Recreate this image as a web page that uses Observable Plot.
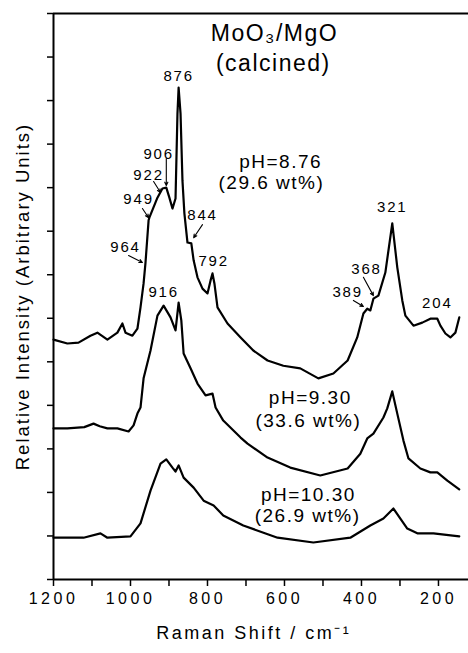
<!DOCTYPE html>
<html><head><meta charset="utf-8">
<script src="https://cdn.jsdelivr.net/npm/d3@7"></script>
<script src="https://cdn.jsdelivr.net/npm/@observablehq/plot@0.6"></script>
<style>
body{margin:0;background:#fff;}
</style></head><body><div id="chart"></div>
<script>
// Raman shift (cm-1), relative intensity (arbitrary units)
const specPH876 = [[1200,5.51],[1164,5.42],[1135,5.44],[1104,5.60],[1086,5.67],[1060,5.51],[1034,5.67],[1021,5.88],[1013,5.67],[995,5.60],[982,5.76],[974,6.25],[966,6.80],[961,7.28],[953,8.25],[951,8.31],[930,8.77],[917,8.98],[907,9.00],[899,8.77],[891,8.52],[883,8.75],[878,10.70],[875,11.30],[870,10.70],[865,9.16],[860,8.41],[852,7.74],[842,7.72],[836,7.33],[826,6.94],[813,6.68],[800,6.57],[792,6.87],[787,7.03],[782,6.80],[774,6.25],[748,5.88],[714,5.56],[681,5.26],[644,5.03],[603,4.91],[559,4.85],[512,4.62],[473,4.73],[436,5.03],[411,5.56],[395,6.11],[385,6.22],[377,6.18],[369,6.45],[356,6.52],[338,7.05],[320,8.18],[307,7.17],[294,6.41],[286,6.06],[265,5.83],[242,5.90],[221,5.99],[203,5.99],[195,5.83],[182,5.65],[169,5.56],[156,5.67],[146,6.02]];
const specPH930 = [[1200,3.47],[1164,3.47],[1120,3.50],[1096,3.58],[1080,3.52],[1060,3.47],[1034,3.47],[1005,3.40],[992,3.54],[982,3.81],[974,3.95],[966,4.62],[948,5.26],[930,6.06],[914,6.29],[896,6.02],[883,5.72],[875,6.36],[868,5.95],[862,5.19],[844,4.85],[826,4.50],[805,4.23],[787,4.27],[779,3.95],[759,3.65],[714,3.26],[696,3.12],[644,2.80],[585,2.57],[507,2.39],[436,2.55],[403,2.89],[385,3.24],[369,3.35],[343,3.72],[333,3.93],[320,4.32],[307,3.81],[291,3.19],[278,2.78],[247,2.55],[221,2.46],[203,2.46],[177,2.27],[146,2.07]];
const specPH1030 = [[1200,0.96],[1122,0.96],[1078,1.06],[1060,0.96],[1000,0.99],[974,1.29],[948,2.04],[922,2.66],[907,2.76],[891,2.57],[883,2.48],[875,2.62],[862,2.34],[836,2.11],[810,1.81],[784,1.70],[759,1.47],[707,1.24],[618,0.96],[525,0.85],[429,0.96],[377,1.24],[343,1.40],[317,1.63],[299,1.40],[281,1.17],[255,1.06],[213,1.06],[146,0.99]];

const seriesNames = ["pH=8.76","pH=9.30","pH=10.30"];
const xTicks = [1200,1100,1000,900,800,700,600,500,400,300,200];
const yTicks = [0,1,2,3,4,5,6,7,8,9,10,11,12,13];

const peakLabels = [
  {t:"876",x:875,y:11.55},{t:"906",x:927,y:9.78},{t:"922",x:953,y:9.28},{t:"949",x:979,y:8.73},
  {t:"964",x:1013,y:7.63},{t:"844",x:813,y:8.36},{t:"792",x:784,y:7.30},{t:"916",x:914,y:6.59},
  {t:"321",x:320,y:8.54},{t:"368",x:387,y:7.12},{t:"389",x:436,y:6.59},{t:"204",x:203,y:6.34}
];
const leaders = [
  {x1:907,y1:9.67,x2:907,y2:9.05},{x1:940,y1:9.14,x2:922,y2:8.89},{x1:969,y1:8.52,x2:953,y2:8.31},
  {x1:1005,y1:7.44,x2:969,y2:7.28},{x1:813,y1:8.15,x2:836,y2:7.85},{x1:395,y1:6.94,x2:369,y2:6.52},
  {x1:421,y1:6.41,x2:395,y2:6.27}
];
const sampleLabels = [
  {t:"pH=8.76",x:610,y:9.58},{t:"(29.6 wt%)",x:634,y:9.10},
  {t:"pH=9.30",x:533,y:4.16},{t:"(33.6 wt%)",x:538,y:3.65},
  {t:"pH=10.30",x:538,y:1.95},{t:"(26.9 wt%)",x:540,y:1.47}
];
const titleLines = [{t:"MoO₃/MgO",x:626,y:12.54},{t:"(calcined)",x:629,y:11.85}];
const xTitle = "Raman Shift / cm⁻¹";
const yTitle = "Relative Intensity (Arbitrary Units)";

const rows = [];
[specPH876, specPH930, specPH1030].forEach((s,i) => s.forEach(([x,y]) => rows.push({series:seriesNames[i], x, y})));

const chart = Plot.plot({
  width: 468, height: 653,
  marginLeft: 53, marginRight: 0, marginTop: 13, marginBottom: 74,
  style: {fontFamily: "'Liberation Sans', Arial, sans-serif", fontSize: "15px", background: "#fff", color: "#000"},
  x: {domain: [1200, 122]},
  y: {domain: [0, 13]},
  marks: [
    Plot.axisX({ticks: xTicks, tickFormat: d => d % 200 === 0 ? String(d) : "", tickSize: 7, tickPadding: 6, fontSize: 16, label: null, strokeWidth: 1.5}),
    Plot.axisY({ticks: yTicks, tickFormat: () => "", tickSize: 6, label: null, strokeWidth: 1.5}),
    Plot.ruleX([1200], {strokeWidth: 2}),
    Plot.ruleY([0], {strokeWidth: 2}),
    Plot.ruleY([13], {strokeWidth: 2}),
    Plot.line(rows, {x: "x", y: "y", z: "series", stroke: "#000", strokeWidth: 2.2, strokeLinejoin: "round"}),
    Plot.arrow(leaders, {x1: "x1", y1: "y1", x2: "x2", y2: "y2", stroke: "#000", strokeWidth: 1.1, headLength: 5, headAngle: 50}),
    Plot.text(peakLabels, {x: "x", y: "y", text: "t", fontSize: 15, fill: "#000"}),
    Plot.text(sampleLabels, {x: "x", y: "y", text: "t", fontSize: 19, fill: "#000"}),
    Plot.text(titleLines, {x: "x", y: "y", text: "t", fontSize: 23, fill: "#000"}),
    Plot.text([xTitle], {x: () => 680, frameAnchor: "bottom", dy: 59, text: d => d, fontSize: 18, fill: "#000"}),
    Plot.text([yTitle], {frameAnchor: "left", textAnchor: "middle", lineAnchor: "middle", dx: -30, rotate: -90, text: d => d, fontSize: 18.5, fill: "#000"})
  ]
});
// typographic tracking as in the scanned figure
const tickSet = new Set(xTicks.map(String));
const peakSet = new Set(peakLabels.map(d => d.t));
const sampleSet = new Set(sampleLabels.map(d => d.t));
const titleSet = new Set(titleLines.map(d => d.t));
d3.select(chart).selectAll("text").each(function() {
  const t = this.textContent;
  let s = 0;
  if (tickSet.has(t)) s = 3.5;
  else if (peakSet.has(t)) s = 1.8;
  else if (sampleSet.has(t)) s = 1.5;
  else if (titleSet.has(t)) s = 1.5;
  else if (t === xTitle) s = 2.5;
  else if (t === yTitle) s = 2;
  if (s) d3.select(this).attr("letter-spacing", s).style("letter-spacing", s + "px");
});
document.getElementById("chart").appendChild(chart);
</script></body></html>
